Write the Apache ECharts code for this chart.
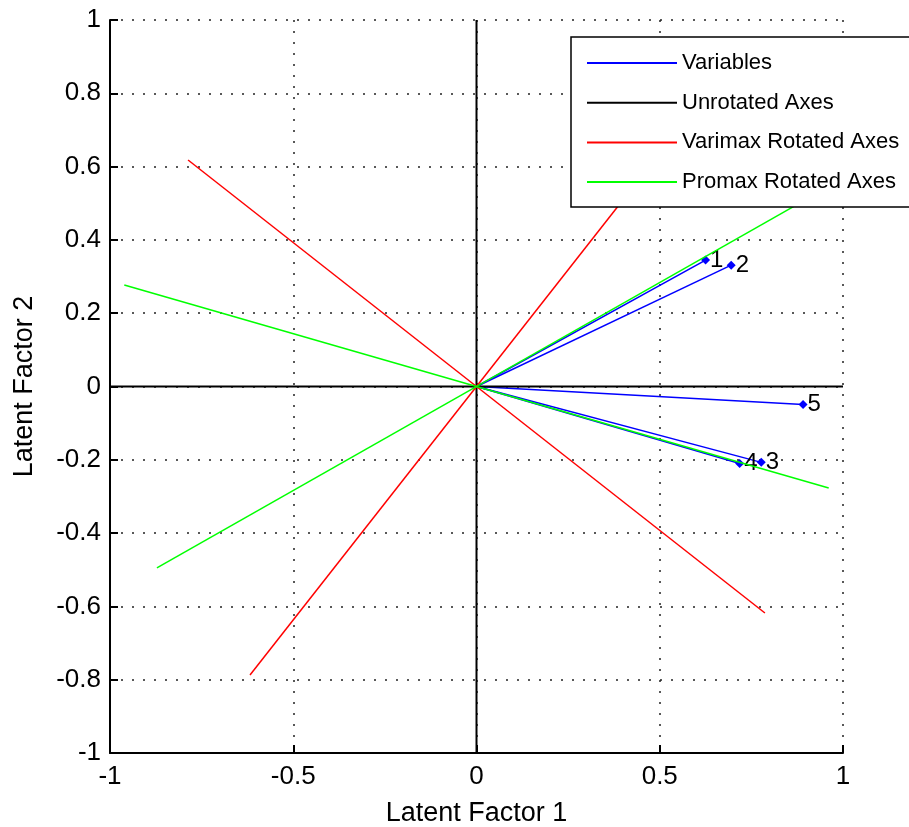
<!DOCTYPE html>
<html>
<head>
<meta charset="utf-8">
<script src="https://cdn.jsdelivr.net/npm/echarts@6/dist/echarts.min.js"></script>
<style>
html,body{margin:0;padding:0;background:#fff;}
#chart{width:909px;height:827px;}
</style>
</head>
<body>
<div id="chart"></div>
<script>
// Variables (loadings)
const varNames = ['1', '2', '3', '4', '5'];
const varX = [0.625, 0.695, 0.777, 0.718, 0.891];
const varY = [0.345, 0.331, -0.207, -0.210, -0.049];

// Axis direction vectors (drawn from -v to v)
const unrotatedX = [1, 0];
const unrotatedY = [0, 1];
const varimaxX = [0.787, 0.618];
const varimaxY = [-0.618, 0.787];
const promaxX = [0.961, 0.872];
const promaxY = [-0.277, 0.495];

const legendNames = ['Variables', 'Unrotated Axes', 'Varimax Rotated Axes', 'Promax Rotated Axes'];
const xTicks = { min: -1, max: 1, interval: 0.5 };
const yTicks = { min: -1, max: 1, interval: 0.2 };

const FONT = '"Liberation Sans", Arial, sans-serif';
const series = [];

varNames.forEach((n, i) => {
  series.push({
    name: 'Variables', type: 'line', color: '#0000ff',
    lineStyle: { width: 1.5, color: '#0000ff' },
    symbol: 'diamond', symbolSize: 9, showSymbol: true,
    itemStyle: { color: '#0000ff' },
    z: 2,
    data: [
      { value: [0, 0], symbolSize: 0 },
      { value: [varX[i], varY[i]],
        label: { show: true, position: 'right', distance: 0, formatter: n,
                 color: '#000', fontFamily: FONT, fontSize: 24 } }
    ]
  });
});

function axisSeries(name, color, xs, ys, z, w) {
  xs.forEach((vx, i) => {
    series.push({
      name: name, type: 'line', color: color,
      lineStyle: { width: w, color: color },
      symbol: 'none', z: z,
      data: [[-vx, -ys[i]], [vx, ys[i]]]
    });
  });
}
axisSeries('Unrotated Axes', '#000000', unrotatedX, unrotatedY, 3, 2);
axisSeries('Varimax Rotated Axes', '#ff0000', varimaxX, varimaxY, 4, 1.5);
axisSeries('Promax Rotated Axes', '#00ff00', promaxX, promaxY, 5, 1.5);

const dotted = { color: '#222', width: 1.5, type: [2, 9] };

const option = {
  animation: false,
  backgroundColor: '#fff',
  grid: { left: 110, top: 20, right: 66, bottom: 74, containLabel: false, outerBoundsMode: 'none' },
  xAxis: {
    type: 'value', min: xTicks.min, max: xTicks.max, interval: xTicks.interval,
    name: 'Latent Factor 1', nameLocation: 'middle', nameGap: 47,
    nameTextStyle: { color: '#000', fontFamily: FONT, fontSize: 27 },
    axisLine: { onZero: false, lineStyle: { color: '#000', width: 2 } },
    axisTick: { inside: true, length: 8, lineStyle: { color: '#000', width: 2 } },
    axisLabel: { color: '#000', fontFamily: FONT, fontSize: 26, margin: 11 },
    splitLine: { show: true, lineStyle: dotted }
  },
  yAxis: {
    type: 'value', min: yTicks.min, max: yTicks.max, interval: yTicks.interval,
    name: 'Latent Factor 2', nameLocation: 'middle', nameGap: 72,
    nameTextStyle: { color: '#000', fontFamily: FONT, fontSize: 27 },
    axisLine: { onZero: false, lineStyle: { color: '#000', width: 2 } },
    axisTick: { inside: true, length: 8, lineStyle: { color: '#000', width: 2 } },
    axisLabel: { color: '#000', fontFamily: FONT, fontSize: 26, margin: 9 },
    splitLine: { show: true, lineStyle: dotted }
  },
  legend: {
    data: legendNames.map(n => ({ name: n, icon: 'rect' })),
    orient: 'vertical', left: 571, top: 37,
    padding: [14, 16, 13, 16],
    itemWidth: 90, itemHeight: 2, itemGap: 15.7,
    backgroundColor: '#fff', borderColor: '#000', borderWidth: 1.5,
    selectedMode: false,
    textStyle: { color: '#000', fontFamily: FONT, fontSize: 22, lineHeight: 24 },
    z: 20
  },
  series: series
};

const chart = echarts.init(document.getElementById('chart'), null, { renderer: 'canvas' });
chart.setOption(option);
</script>
</body>
</html>
